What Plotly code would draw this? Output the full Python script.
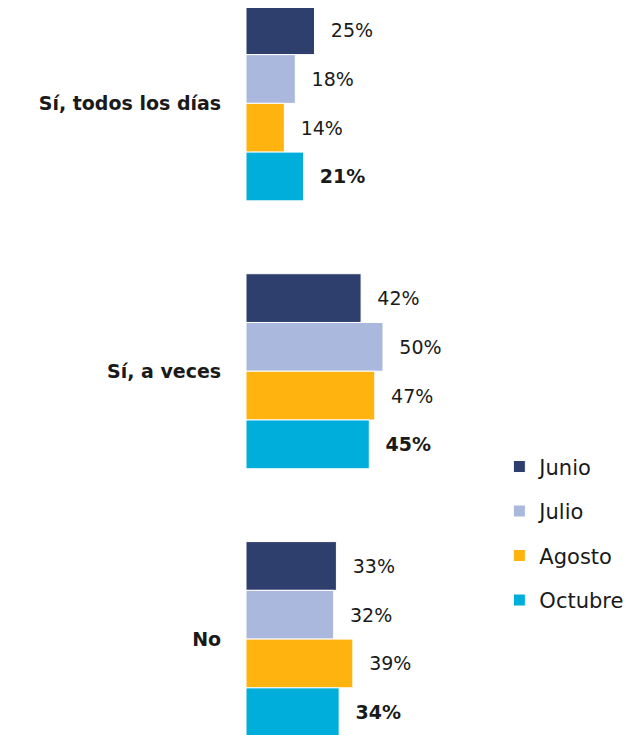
import plotly.graph_objects as go

# Datos
categories = ['Sí, todos los días', 'Sí, a veces', 'No']
months = ['Junio', 'Julio', 'Agosto', 'Octubre']
junio = [25, 42, 33]
julio = [18, 50, 32]
agosto = [14, 47, 39]
octubre = [21, 45, 34]

series = [junio, julio, agosto, octubre]
colors = ['#2E3F6E', '#ABB8DE', '#FFB30F', '#00AEDB']

FONT = 'DejaVu Sans, sans-serif'

fig = go.Figure()

for name, vals, color in zip(months, series, colors):
    bold = name == 'Octubre'
    labels = [f"<b>{v}%</b>" if bold else f"{v}%" for v in vals]
    fig.add_trace(go.Bar(
        y=categories,
        x=vals,
        orientation='h',
        name=name,
        legendgroup=name,
        marker=dict(color=color, line=dict(color='white', width=1)),
        text=['\u2002\u2009' + t for t in labels],
        textposition='outside',
        cliponaxis=False,
        textfont=dict(size=19, color='#1a1a1a'),
    ))

# the page adds an 8px body margin, so the figure is drawn 8px smaller
fig.update_layout(
    width=629,
    height=727,
    margin=dict(l=238, r=0, t=0, b=0),
    barmode='group',
    bargap=0.272,
    bargroupgap=0,
    plot_bgcolor='white',
    paper_bgcolor='white',
    font=dict(family=FONT, size=19, color='#1a1a1a'),
    xaxis=dict(range=[0, 142.7], visible=False, fixedrange=True),
    yaxis=dict(
        categoryorder='array',
        categoryarray=categories,
        range=[2.358, -0.356],
        showgrid=False,
        zeroline=False,
        showline=False,
        ticks='outside',
        ticklen=20,
        tickcolor='rgba(0,0,0,0)',
        tickfont=dict(size=19, color='#1a1a1a'),
        tickvals=categories,
        ticktext=[f"<b>{c}</b>" for c in categories],
    ),
    legend=dict(
        x=0.648, y=0.397,
        xanchor='left', yanchor='top',
        traceorder='grouped',
        tracegroupgap=14.2,
        font=dict(size=21),
        itemwidth=30,
        bgcolor='rgba(0,0,0,0)',
    ),
    showlegend=True,
)

fig.write_html("out.html")
